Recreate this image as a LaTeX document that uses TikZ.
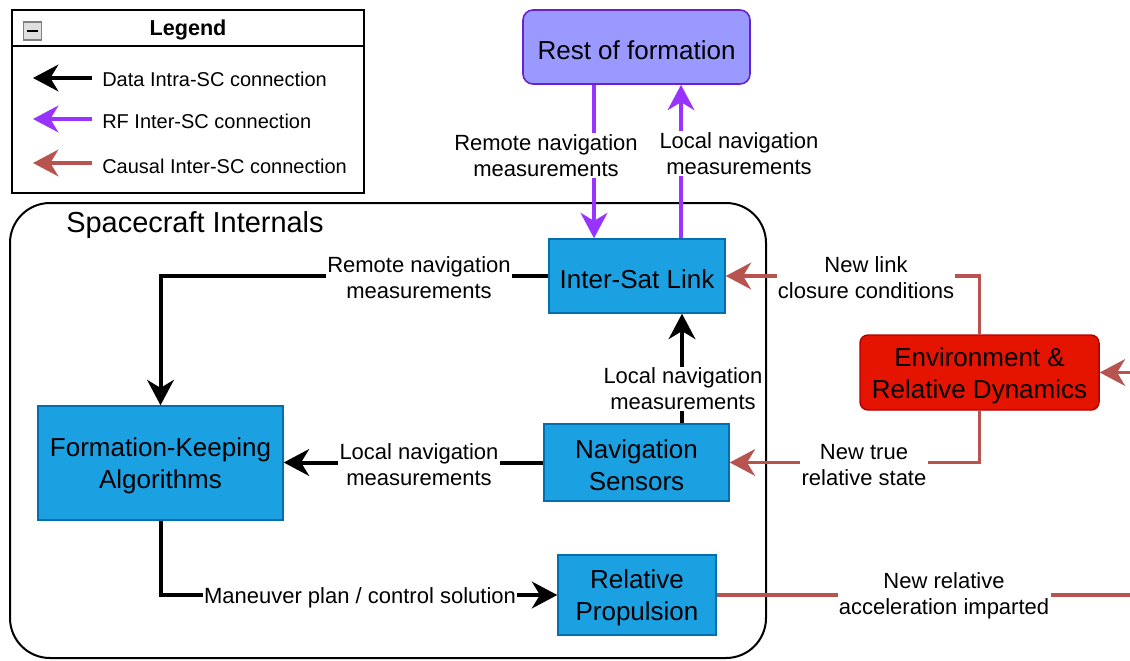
\documentclass[tikz,border=0pt]{standalone}
\usepackage{fontspec}
\setmainfont{Liberation Sans}
\usetikzlibrary{arrows.meta}
\definecolor{blockfill}{HTML}{1BA1E2}
\definecolor{blockline}{HTML}{006EAF}
\definecolor{rfpurple}{HTML}{9933FF}
\definecolor{formfill}{HTML}{9999FF}
\definecolor{formline}{HTML}{6A1FD1}
\definecolor{envfill}{HTML}{E51400}
\definecolor{envline}{HTML}{B20000}
\definecolor{causal}{HTML}{B85450}
\tikzset{
  tip/.style={-{Stealth[length=19pt,width=20pt,inset=6pt]}},
  datalink/.style={line width=3pt, draw=black},
  rflink/.style={line width=3pt, draw=rfpurple},
  causallink/.style={line width=2.8pt, draw=causal},
  boxtext/.style={align=center, inner sep=0pt, yshift=-2.3pt,
    font=\fontsize{19.5}{24}\selectfont},
  block/.style={draw=blockline, fill=blockfill, line width=1.1pt, inner sep=0pt},
  formation/.style={draw=formline, fill=formfill, line width=1.2pt,
    rounded corners=7.5pt, inner sep=0pt},
  envblock/.style={draw=envline, fill=envfill, line width=1.1pt,
    rounded corners=6pt, inner sep=0pt},
  lbl/.style={fill=white, align=center, inner sep=1pt,
    font=\fontsize{16.5}{19.5}\selectfont},
  legendtext/.style={anchor=west, inner sep=0pt, font=\fontsize{15}{18}\selectfont},
}
\begin{document}
\begin{tikzpicture}[x=0.75pt, y=-0.75pt]
\useasboundingbox (0,0) rectangle (1130,660);

% ---------- legend ----------
\draw[line width=1.5pt] (12,10) rectangle (364,193);
\draw[line width=1.5pt] (12,46) -- (364,46);
\node[font=\fontsize{16.2}{19}\selectfont\bfseries] (legendtitle) at (188,29.5) {Legend};
\node[draw=gray, fill=gray!25, line width=0.8pt, minimum width=14pt, minimum height=13.5pt,
      inner sep=0pt] (collapse) at (32.5,31) {};
\draw[line width=1.6pt] ([xshift=-4pt]collapse.center) -- ([xshift=4pt]collapse.center);

\coordinate (lgA1) at (92,78);  \coordinate (lgA2) at (33,78);
\coordinate (lgB1) at (92,119); \coordinate (lgB2) at (33,119);
\coordinate (lgC1) at (92,163); \coordinate (lgC2) at (33,163);
\draw[datalink,tip] (lgA1) -- (lgA2);
\draw[rflink,tip] (lgB1) -- (lgB2);
\draw[causallink,tip] (lgC1) -- (lgC2);
\node[legendtext] (lgdata) at (102,79) {Data Intra-SC connection};
\node[legendtext] (lgrf) at (102,121) {RF Inter-SC connection};
\node[legendtext] (lgcausal) at (102,166) {Causal Inter-SC connection};

% ---------- spacecraft container ----------
\draw[line width=1.5pt, rounded corners=30pt] (10,203) rectangle (766,658);
\node[font=\fontsize{21.7}{26}\selectfont] (sctitle) at (195,225.5) {Spacecraft Internals};

% ---------- blocks ----------
\node[formation, minimum width=170.25pt, minimum height=55.5pt,
      label={[boxtext]center:Rest of formation}] (rest) at (636.5,47) {};
\node[block, minimum width=132pt, minimum height=55.5pt,
      label={[boxtext]center:Inter-Sat Link}] (isl) at (637,276) {};
\node[block, minimum width=183.75pt, minimum height=85.5pt,
      label={[boxtext]center:Formation-Keeping\\Algorithms}] (fka) at (160.5,463) {};
\node[block, minimum width=138.75pt, minimum height=57.75pt,
      label={[boxtext]center:Navigation\\Sensors}] (nav) at (636.5,462.5) {};
\node[block, minimum width=118.5pt, minimum height=60pt,
      label={[boxtext]center:Relative\\Propulsion}] (prop) at (637,595) {};
\node[envblock, minimum width=179.25pt, minimum height=56.25pt,
      label={[boxtext]center:Environment \&\\Relative Dynamics}] (env) at (979.5,372.5) {};

% ---------- connectors ----------
\coordinate (rfdown) at (594,0);
\coordinate (rfup) at (681,0);
\coordinate (navup) at (682,0);
\coordinate (edge) at (1130,0);

\draw[rflink,tip] (rest.south -| rfdown) -- (isl.north -| rfdown);
\draw[rflink,tip] (isl.north -| rfup) -- (rest.south -| rfup);

\draw[datalink,tip] (isl.west) -| (fka.north);
\draw[datalink,tip] (nav.north -| navup) -- (isl.south -| navup);
\draw[datalink,tip] (nav.west) -- (nav.west -| fka.east);
\draw[datalink,tip] (fka.south) |- (prop.west);

\draw[causallink,tip] (env.north) |- (isl.east);
\draw[causallink,tip] (env.south) |- (nav.east);
\draw[causallink] (prop.east) -- (prop.east -| edge);
\draw[causallink,tip] (env.east -| edge) -- (env.east);

% ---------- connector labels ----------
\node[lbl] (lremoteup) at (546,155.5) {Remote navigation\\measurements};
\node[lbl] (llocalup) at (739,153.5) {Local navigation\\measurements};
\node[lbl] (lremote) at (419,277.5) {Remote navigation\\measurements};
\node[lbl, inner sep=0.5pt] (llocalvert) at (683,389) {Local navigation\\measurements};
\node[lbl] (llocal) at (419,465) {Local navigation\\measurements};
\node[lbl, inner sep=0.5pt] (lmaneuver) at (360,597.5) {Maneuver plan / control solution};
\node[lbl] (llink) at (866,277.5) {New link\\closure conditions};
\node[lbl] (lstate) at (864,465) {New true\\relative state};
\node[lbl] (laccel) at (944,595.5) {New relative\\acceleration imparted};
\end{tikzpicture}
\end{document}
